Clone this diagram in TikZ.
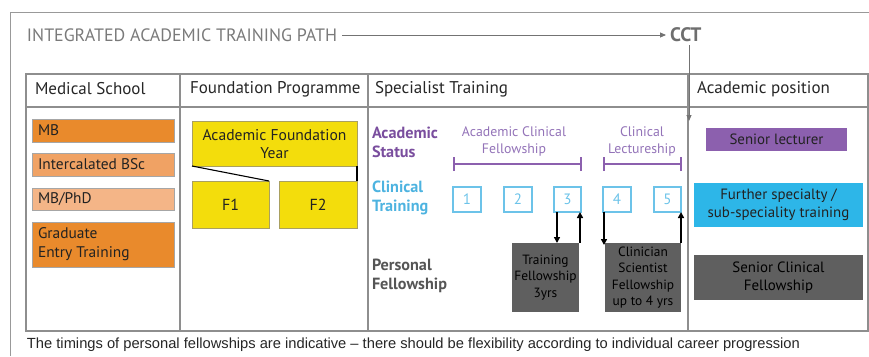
\documentclass[tikz,border=0pt]{standalone}
\usepackage{fontspec}
\setmainfont{PT Sans}
\newfontfamily\capfont{Liberation Sans}
\usetikzlibrary{arrows.meta,calc}

\definecolor{rulegray}{HTML}{8E8E8E}
\definecolor{titlegray}{HTML}{7A7A7A}
\definecolor{orangeA}{HTML}{E98A2C}
\definecolor{orangeB}{HTML}{F0A264}
\definecolor{orangeC}{HTML}{F4B587}
\definecolor{fyellow}{HTML}{F3DD0C}
\definecolor{ylborder}{HTML}{A9A060}
\definecolor{purpleT}{HTML}{7A4E9E}
\definecolor{purpleL}{HTML}{9373B8}
\definecolor{purpleF}{HTML}{8C60AE}
\definecolor{blueT}{HTML}{4DB3E0}
\definecolor{blueB}{HTML}{6CC3E9}
\definecolor{cyanF}{HTML}{2DB6E8}
\definecolor{darkbox}{HTML}{5F5F5F}
\definecolor{pfgray}{HTML}{555555}
\definecolor{inktext}{HTML}{222222}

\tikzset{
  every node/.style={inner sep=0pt, outer sep=0pt},
  rule/.style={draw=rulegray, line width=1.3pt},
  headtxt/.style={anchor=west, font=\fontsize{17}{20}\selectfont, text=black!85},
  medbox/.style={draw=black!35, line width=0.5pt, anchor=north west,
    minimum width=142pt},
  medtxt/.style={anchor=west, align=left, text=inktext, font=\fontsize{15.4}{19}\selectfont},
  fbox/.style={fill=fyellow, draw=ylborder, line width=0.5pt, anchor=north west},
  ftxt/.style={align=center, text=inktext, font=\fontsize{15.6}{18}\selectfont},
  rowlabel/.style={anchor=west, align=left, font=\bfseries\fontsize{16.2}{19}\selectfont},
  spantxt/.style={align=center, text=purpleL, font=\fontsize{13.8}{17}\selectfont},
  bracket/.style={draw=purpleF, line width=1.2pt},
  yearbox/.style={draw=blueB, line width=1.3pt, anchor=north west,
    minimum width=28pt, minimum height=25pt, text=blueB,
    font=\fontsize{15}{17}\selectfont},
  darkfill/.style={fill=darkbox, anchor=north west},
  darktxt/.style={align=center, text=black, font=\fontsize{13.4}{16.6}\selectfont},
  postxt/.style={align=center, text=inktext, font=\fontsize{14.9}{18}\selectfont},
  flow/.style={draw=black, line width=1.5pt, -{Triangle[length=6pt,width=6pt]}},
  gtip/.style={-{Triangle[length=6pt,width=5pt]}}
}

\begin{document}
\begin{tikzpicture}[x=1pt,y=-1pt]
\useasboundingbox (0,0) rectangle (869,356);

% outer frame (open at bottom and right)
\draw[draw=black!40, line width=0.8pt] (10,356) -- (10,12) -- (869,12);

% title line with CCT
\node[anchor=west, text=titlegray, font=\fontsize{17.9}{20}\selectfont] (title) at (27,35) {INTEGRATED ACADEMIC TRAINING PATH};
\node[anchor=west, text=titlegray!90!black, font=\bfseries\fontsize{19.5}{22}\selectfont] (cct) at (670,35) {CCT};
\draw[draw=black!55, line width=0.9pt, gtip] ([xshift=5pt]title.east) -- ([xshift=-4pt]cct.west);

% table grid
\draw[rule] (26,74) rectangle (868,331);
\draw[rule] (26,107) -- (868,107);
\coordinate (c1top) at (180,74);
\coordinate (c2top) at (368,74);
\coordinate (c3top) at (688,74);
\draw[rule] (c1top) -- (180,331);
\draw[rule] (c2top) -- (368,331);
\draw[rule] (c3top) -- (688,331);

% drop from CCT into the academic column
\coordinate (cctfoot) at (689,45);
\coordinate (cctdrop) at (689,121);
\draw[draw=black!55, line width=1pt, gtip] (cctfoot) -- (cctdrop);

% column headings
\node[headtxt] (h1) at (35,89) {Medical School};
\node[headtxt] (h2) at (190,89) {Foundation Programme};
\node[headtxt] (h3) at (375,89) {Specialist Training};
\node[headtxt] (h4) at (697,89) {Academic position};

% medical school routes
\node[medbox, fill=orangeA, minimum height=23pt] (mb) at (32,119) {};
\node[medtxt] at ([xshift=6pt]mb.west) {MB};
\node[medbox, fill=orangeB, minimum height=23pt] (bsc) at (32,153) {};
\node[medtxt] at ([xshift=6pt]bsc.west) {Intercalated BSc};
\node[medbox, fill=orangeC, minimum height=22pt] (phd) at (32,188) {};
\node[medtxt] at ([xshift=6pt]phd.west) {MB/PhD};
\node[medbox, fill=orangeA, minimum height=45pt] (get) at (32,222) {};
\node[medtxt] at ([xshift=6pt]get.west) {Graduate\\Entry Training};

% foundation programme
\node[fbox, minimum width=165pt, minimum height=45pt] (afy) at (192,121) {};
\node[ftxt] at ([yshift=-1pt]afy.center) {Academic Foundation\\Year};
\node[fbox, minimum width=77pt, minimum height=47pt] (f1) at (192,181) {};
\node[ftxt, font=\fontsize{16}{18}\selectfont] at (f1.center) {F1};
\node[fbox, minimum width=78pt, minimum height=47pt] (f2) at (279,181) {};
\node[ftxt, font=\fontsize{16}{18}\selectfont] at (f2.center) {F2};
\draw[black, line width=1.1pt] (afy.south west) -- (f1.north east);
\draw[black, line width=1.1pt] (afy.south east) -- (f2.north east);

% row labels
\node[rowlabel, text=purpleT] (lstat) at (372,142) {Academic\\Status};
\node[rowlabel, text=blueT] (lclin) at (372,198) {Clinical\\Training};
\node[rowlabel, text=pfgray] (lpers) at (372,276) {Personal\\Fellowship};

% academic status spans
\node[spantxt] (acf) at (514,141) {Academic Clinical\\Fellowship};
\node[spantxt] (cl) at (642,141) {Clinical\\Lectureship};
\coordinate (acfL) at (454,164);
\coordinate (acfR) at (581,164);
\coordinate (clL) at (604,164);
\coordinate (clR) at (681,164);
\draw[bracket] (acfL) -- (acfR);
\draw[bracket] ([yshift=-7pt]acfL) -- ([yshift=7pt]acfL);
\draw[bracket] ([yshift=-7pt]acfR) -- ([yshift=7pt]acfR);
\draw[bracket] (clL) -- (clR);
\draw[bracket] ([yshift=-7pt]clL) -- ([yshift=7pt]clL);
\draw[bracket] ([yshift=-7pt]clR) -- ([yshift=7pt]clR);

% clinical training years
\node[yearbox] (y1) at (453,187) {1};
\node[yearbox] (y2) at (504,187) {2};
\node[yearbox, minimum width=27pt] (y3) at (554,187) {3};
\node[yearbox] (y4) at (603,187) {4};
\node[yearbox, minimum width=27pt] (y5) at (654,187) {5};

% personal fellowships
\node[darkfill, minimum width=67pt, minimum height=69pt] (tf) at (512,243) {};
\node[darktxt] at (tf.center) {Training\\Fellowship\\3yrs};
\node[darkfill, minimum width=76pt, minimum height=69pt] (csf) at (605,243) {};
\node[darktxt] at (csf.center) {Clinician\\Scientist\\Fellowship\\up to 4 yrs};

% movement between training and fellowships
\draw[flow] ([xshift=3pt]y3.south west) -- ([xshift=3pt]y3.south west |- tf.north);
\draw[flow] ([xshift=-1pt]y3.south east |- tf.north) -- ([xshift=-1pt]y3.south east);
\draw[flow] ([xshift=1pt]y4.south west) -- ([xshift=1pt,yshift=-2pt]y4.south west |- csf.north);
\draw[flow] (y5.south east |- csf.north) -- (y5.south east);

% academic positions
\node[anchor=north west, fill=purpleF, minimum width=141pt, minimum height=23pt] (sl) at (706,128) {};
\node[postxt] at (sl.center) {Senior lecturer};
\node[anchor=north west, fill=cyanF, minimum width=169pt, minimum height=44pt] (fs) at (694,183) {};
\node[postxt] at (fs.center) {Further specialty /\\sub-speciality training};
\node[anchor=north west, fill=darkbox, minimum width=169pt, minimum height=45pt] (scf) at (694,255) {};
\node[postxt, text=black] at (scf.center) {Senior Clinical\\Fellowship};

% footnote
\node[anchor=west, text=black!85, font=\capfont\fontsize{14.7}{17}\selectfont] (note) at (27,345) {The timings of personal fellowships are indicative – there should be flexibility according to individual career progression};
\end{tikzpicture}
\end{document}
